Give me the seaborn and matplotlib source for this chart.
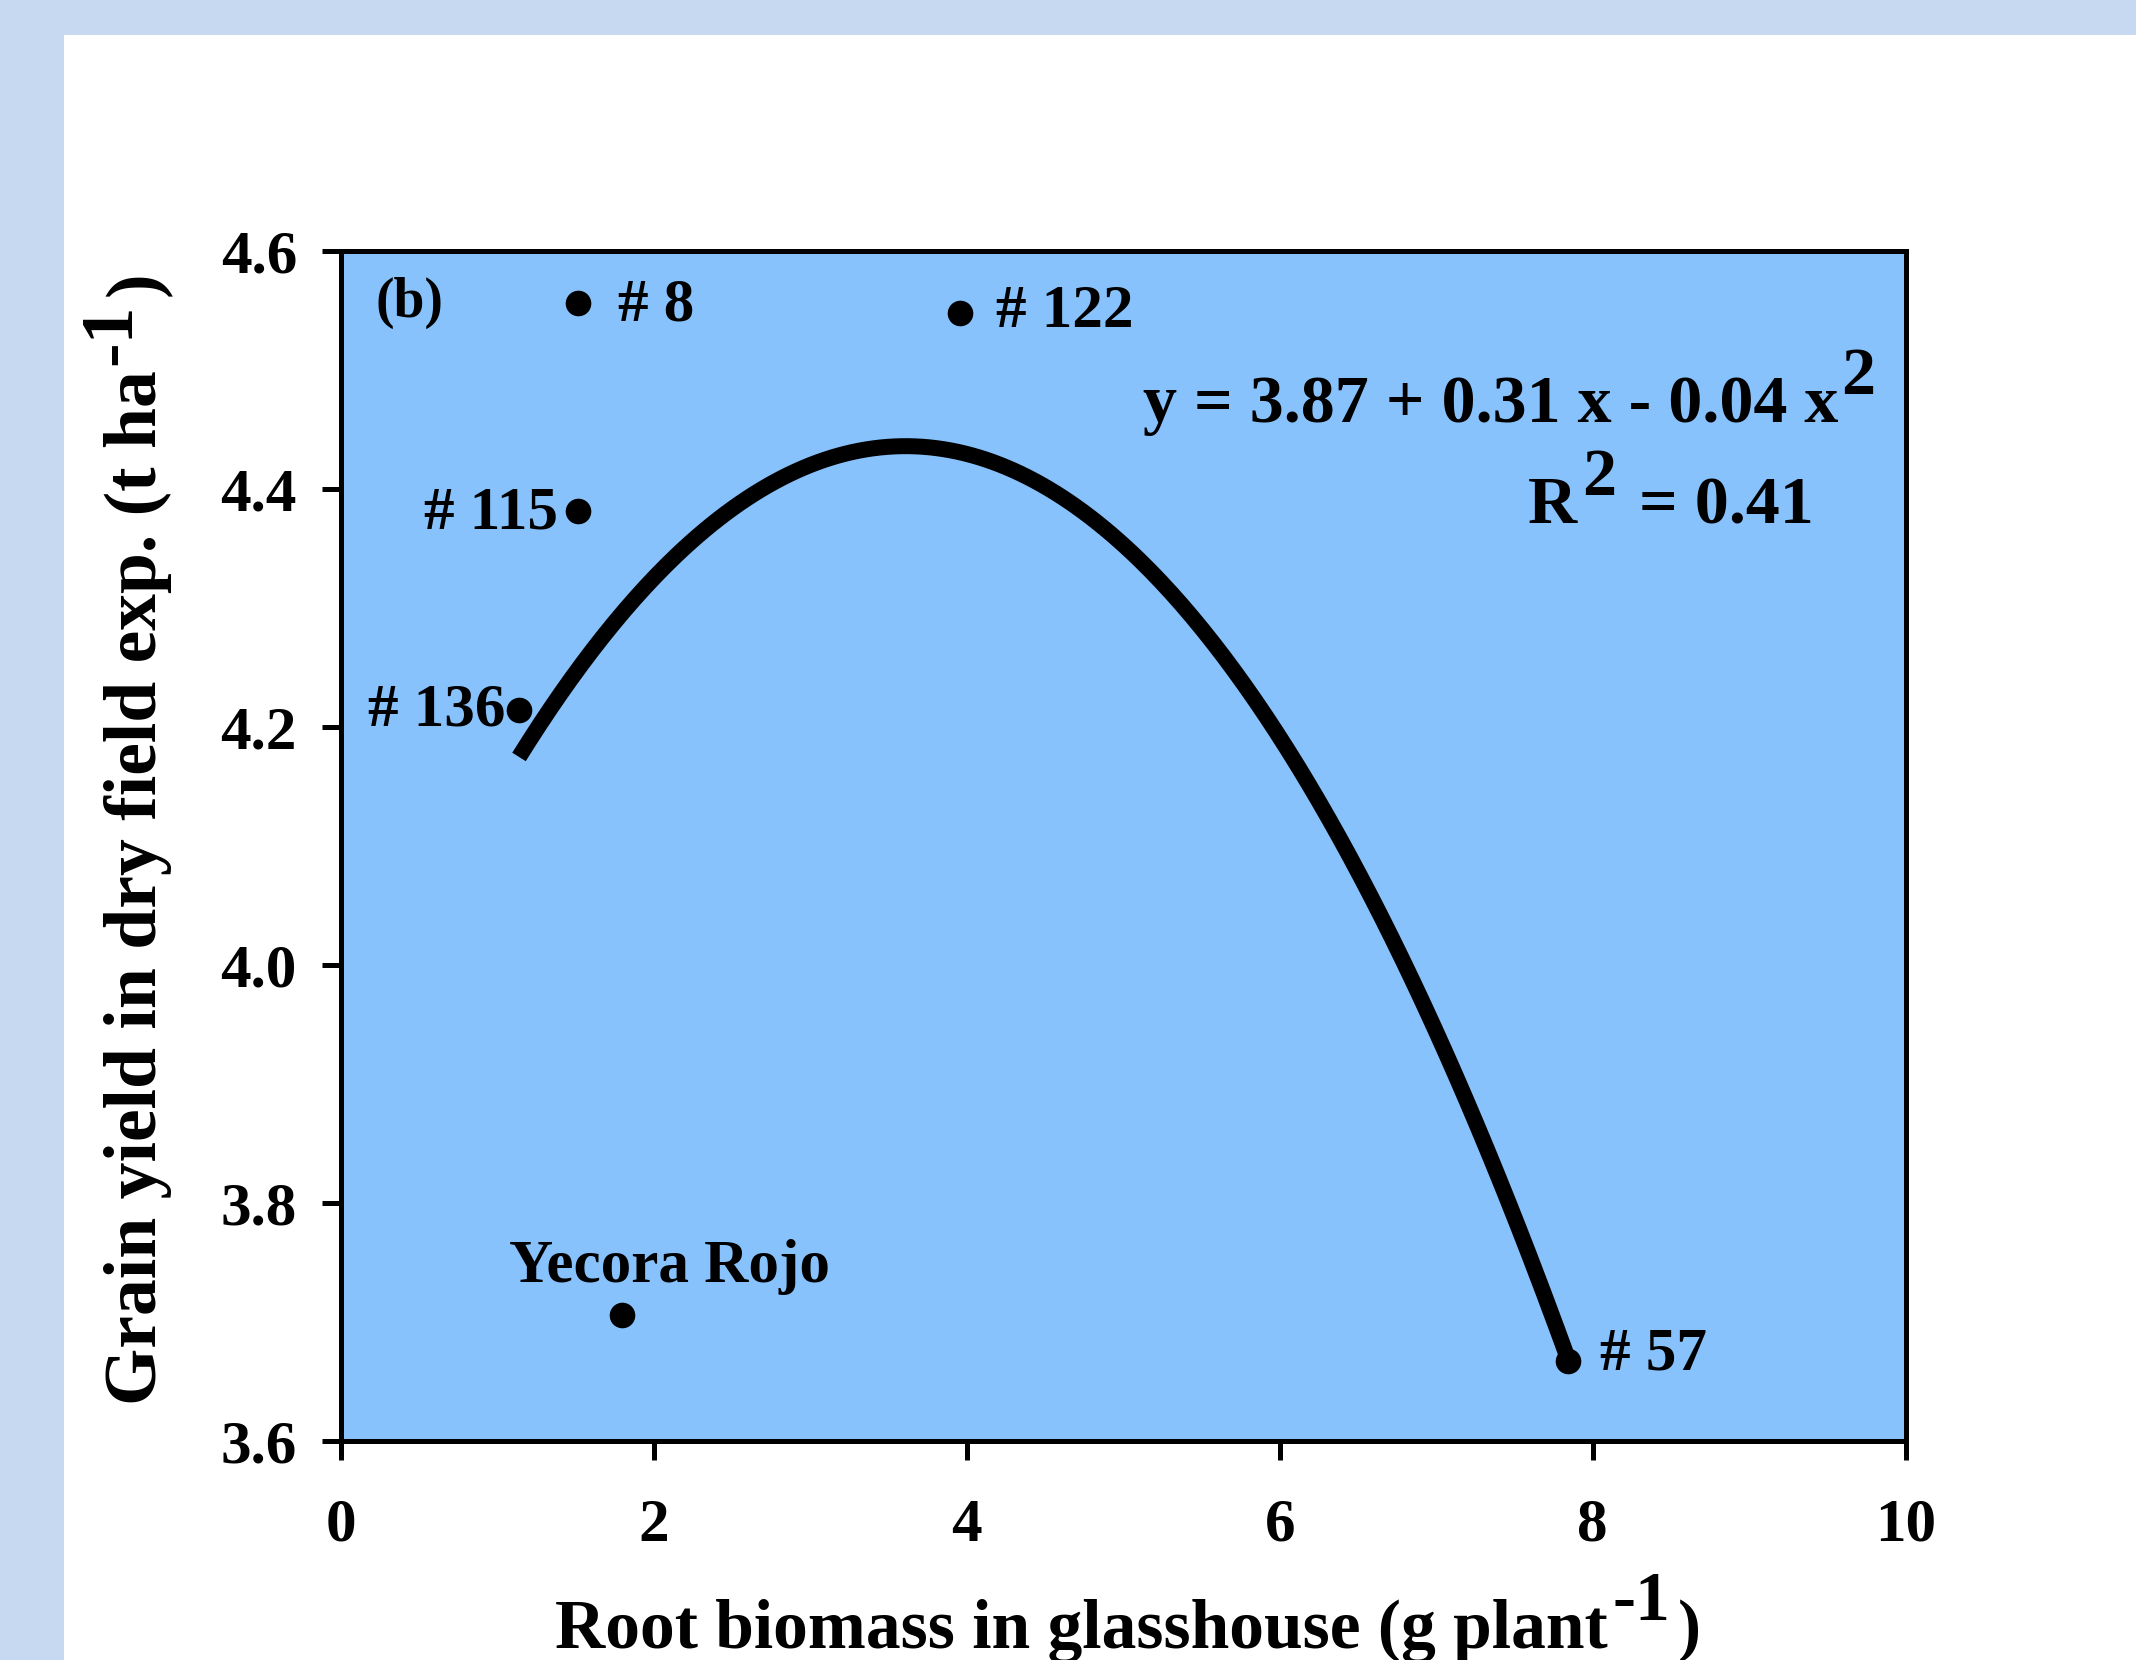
import numpy as np
import pandas as pd
import matplotlib
matplotlib.use("Agg")
import matplotlib.pyplot as plt
import seaborn as sns
from matplotlib.patches import Rectangle

# ---------------- data ----------------
genotypes = ["# 8", "# 122", "# 115", "# 136", "Yecora Rojo", "# 57"]
root_biomass = [1.52, 3.96, 1.52, 1.14, 1.80, 7.84]       # g plant-1
grain_yield = [4.556, 4.548, 4.381, 4.214, 3.706, 3.667]   # t ha-1
# quadratic fit drawn in the chart (y = c0 + c1 x + c2 x^2)
fit_coeffs = [3.878, 0.309, -0.0428]
x_ticks = [0, 2, 4, 6, 8, 10]
x_tick_labels = ["0", "2", "4", "6", "8", "10"]
y_ticks = [3.6, 3.8, 4.0, 4.2, 4.4, 4.6]
y_tick_labels = ["3.6", "3.8", "4.0", "4.2", "4.4", "4.6"]
panel_label = "(b)"
eq_main = "y = 3.87 + 0.31 x - 0.04 x"
r2_value = "= 0.41"

# ---------------- style ----------------
W, H = 2136, 1660
sns.set_theme(style="ticks")
plt.rcParams["font.family"] = ["Liberation Serif", "DejaVu Serif"]
plt.rcParams["font.weight"] = "bold"
plt.rcParams["text.color"] = "black"

fig = plt.figure(figsize=(W / 100, H / 100), dpi=100, facecolor="#C7D9F0")
fig.patches.append(Rectangle((64 / W, 0), 1 - 64 / W, (H - 35) / H,
                             transform=fig.transFigure, facecolor="white",
                             edgecolor="none", zorder=-10))

L, R, T, B = 340.6, 1905.7, 250.6, 1441.0
ax = fig.add_axes([L / W, (H - B) / H, (R - L) / W, (B - T) / H])
ax.set_facecolor("#88C2FC")

df = pd.DataFrame({"root": root_biomass, "grain": grain_yield, "name": genotypes})

xs = np.linspace(min(root_biomass), max(root_biomass), 300)
fit_df = pd.DataFrame({"x": xs, "y": np.polyval(fit_coeffs[::-1], xs)})
sns.lineplot(data=fit_df, x="x", y="y", color="black", linewidth=11.5,
             ax=ax, solid_capstyle="butt", zorder=2)
sns.scatterplot(data=df, x="root", y="grain", color="black", s=340,
                linewidth=0, ax=ax, zorder=3)

ax.set_xlim(0, 10)
ax.set_ylim(3.6, 4.6)
ax.set_xticks(x_ticks)
ax.set_xticklabels(x_tick_labels)
ax.set_yticks(y_ticks)
ax.set_yticklabels(y_tick_labels)
ax.set_xlabel("")
ax.set_ylabel("")
for sp in ax.spines.values():
    sp.set_visible(True)
    sp.set_color("black")
    sp.set_linewidth(3.6)
ax.tick_params(axis="both", direction="out", length=13.7, width=3.6,
               color="black", labelsize=44, labelcolor="black")
ax.tick_params(axis="y", pad=17.7)
ax.tick_params(axis="x", pad=27)
for lbl in ax.get_xticklabels() + ax.get_yticklabels():
    lbl.set_fontweight("bold")

# point labels: (offset x px, offset y px, ha)
offsets = {
    "# 8": (40, -18, "left"),
    "# 122": (36, -14, "left"),
    "# 115": (-20, -17, "right"),
    "# 136": (-14, -15, "right"),
    "Yecora Rojo": (47, 33, "center"),
    "# 57": (32, -8, "left"),
}
for name, xv, yv in zip(genotypes, root_biomass, grain_yield):
    dx, dy, ha = offsets[name]
    ax.annotate(name, (xv, yv), xytext=(dx, dy), textcoords="offset pixels",
                ha=ha, va="baseline", fontsize=44, fontweight="bold",
                color="black", zorder=4)

ax.text((375 - L) / (R - L), (B - 317) / (B - T), panel_label,
        transform=ax.transAxes, ha="left", va="baseline", fontsize=40,
        fontweight="bold", color="black")

renderer = fig.canvas.get_renderer()


def chain(pieces, px, py, size, rotation=0, anchor="center"):
    """pieces: (text, raise_px, gap_px). px/py in pixels from top-left."""
    lens = []
    for s, _, _ in pieces:
        t = fig.text(0, 0, s, fontsize=size, fontweight="bold")
        lens.append(t.get_window_extent(renderer).width)
        t.remove()
    total = sum(lens) + sum(g for _, _, g in pieces)
    pos = -total / 2 if anchor == "center" else 0.0
    for (s, rise, gap), ln in zip(pieces, lens):
        pos += gap
        if rotation == 0:
            x, y = px + pos, py - rise
            fig.text(x / W, (H - y) / H, s, ha="left", va="baseline",
                     fontsize=size, fontweight="bold", color="black")
        else:
            x, y = px - rise, py - pos
            fig.text(x / W, (H - y) / H, s, ha="left", va="baseline",
                     rotation=90, rotation_mode="anchor", fontsize=size,
                     fontweight="bold", color="black")
        pos += ln


# equation and R^2
chain([(eq_main, 0, 0), ("2", 28, 3)], 1143, 422, 49, anchor="left")
chain([("R", 0, 0), ("2", 28, 5), (r2_value, 0, 23)], 1528, 523, 49, anchor="left")

# axis labels
chain([("Root biomass in glasshouse (g plant", 0, 0), ("-1", 28, 5), (")", 0, 8)],
      1128, 1648, 50)
chain([("Grain yield in dry field exp. (t ha", 0, 0), ("-1", 26, 5), (")", 0, 8)],
      156, 838, 53, rotation=90)

fig.savefig("out.png", dpi=100, facecolor=fig.get_facecolor())
